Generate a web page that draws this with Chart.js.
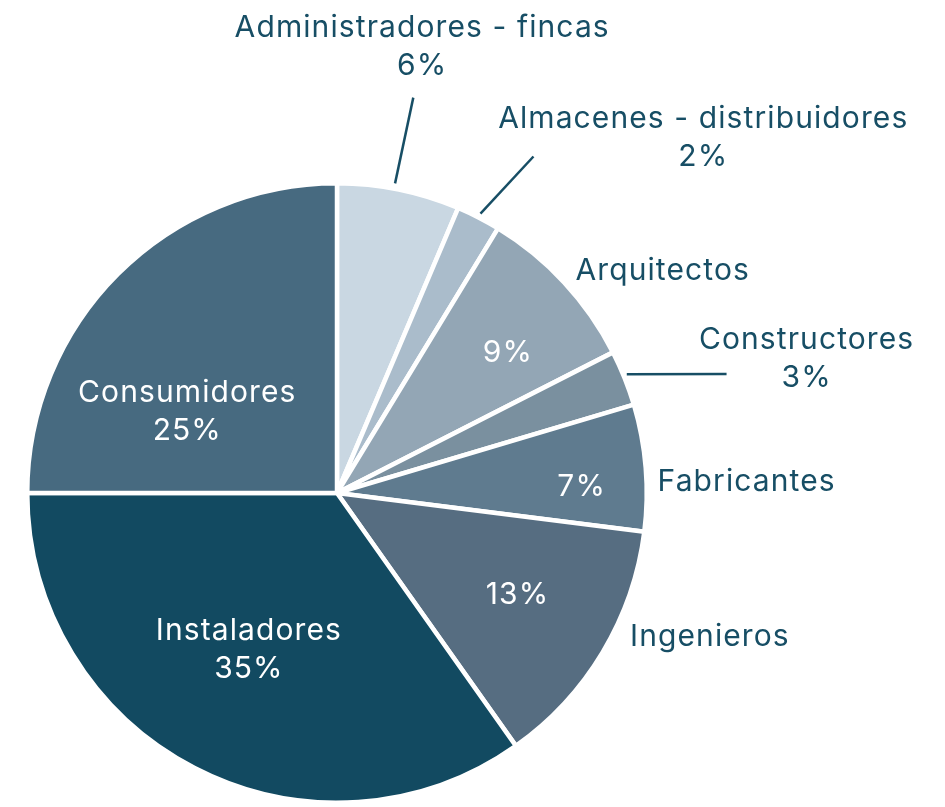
<!DOCTYPE html>
<html>
<head>
<meta charset="utf-8">
<script src="https://cdn.jsdelivr.net/npm/chart.js@4"></script>
<style>
  html, body { margin: 0; padding: 0; background: #ffffff; }
  #wrap { width: 945px; height: 807px; }
</style>
</head>
<body>
<div id="wrap"><canvas id="pieChart" width="945" height="807"></canvas></div>
<script>
// Data (share of total, %)
const categories = [
    'Administradores - fincas',
    'Almacenes - distribuidores',
    'Arquitectos',
    'Constructores',
    'Fabricantes',
    'Ingenieros',
    'Instaladores',
    'Consumidores'
];
const shares = [6.4, 2.3, 8.8, 2.9, 6.6, 13.2, 34.8, 25.0];
const sliceColors = ['#c9d7e2', '#aabccb', '#93a6b5', '#7a909f', '#5f7b8f', '#566d81', '#124a61', '#476a80'];

const TEXT_DARK = '#174e65';
const FONT = '400 30px Inter, "Open Sans", sans-serif';
const LINE_H = 38;

// Where each slice's texts go: polar offsets relative to the slice middle
// (degrees clockwise, radius as a factor of the pie radius)
const placements = [
    { out: [-0.7, 1.465], both: true, line: [[-0.9, 1.017], [-0.6, 1.30]] },
    { out: [18.7, 1.647], both: true, line: [[0, 1.014], [3.1, 1.258]] },
    { inPct: [3.5, 0.713], name: [8.6, 1.272] },
    { out: [5.8, 1.577], both: true, line: [[-0.5, 1.011], [4.8, 1.315]] },
    { inPct: [3.2, 0.79], name: [3.2, 1.323] },
    { inPct: [-1.4, 0.67], name: [-9.9, 1.29] },
    { inBoth: [2, 0.58] },
    { inBoth: [-16.5, 0.55] }
];

// Draw slice labels and leader lines
const sliceLabels = {
    id: 'sliceLabels',
    afterDatasetsDraw(chart) {
        const ctx = chart.ctx;
        const arcs = chart.getDatasetMeta(0).data;
        ctx.save();
        ctx.font = FONT;
        ctx.letterSpacing = '1.1px';
        ctx.textAlign = 'center';
        ctx.textBaseline = 'middle';

        arcs.forEach((arc, i) => {
            const p = placements[i];
            const { x, y, startAngle, endAngle, outerRadius } =
                arc.getProps(['x', 'y', 'startAngle', 'endAngle', 'outerRadius'], true);
            const mid = (startAngle + endAngle) / 2;
            const pt = (spec) => {
                const a = mid + spec[0] * Math.PI / 180;
                return [x + Math.cos(a) * outerRadius * spec[1], y + Math.sin(a) * outerRadius * spec[1]];
            };
            const pct = Math.round(shares[i]) + '%';

            const block = (spec, lines, color) => {
                const [cx, cy] = pt(spec);
                ctx.fillStyle = color;
                lines.forEach((t, k) => {
                    ctx.fillText(t, cx, cy + (k - (lines.length - 1) / 2) * LINE_H);
                });
            };

            if (p.line) {
                const a = pt(p.line[0]);
                const b = pt(p.line[1]);
                ctx.strokeStyle = TEXT_DARK;
                ctx.lineWidth = 2.5;
                ctx.beginPath();
                ctx.moveTo(a[0], a[1]);
                ctx.lineTo(b[0], b[1]);
                ctx.stroke();
            }
            if (p.out) block(p.out, [categories[i], pct], TEXT_DARK);
            if (p.inPct) block(p.inPct, [pct], '#ffffff');
            if (p.name) block(p.name, [categories[i]], TEXT_DARK);
            if (p.inBoth) block(p.inBoth, [categories[i], pct], '#ffffff');
        });
        ctx.restore();
    }
};

new Chart(document.getElementById('pieChart'), {
    type: 'pie',
    data: {
        labels: categories,
        datasets: [{
            data: shares,
            backgroundColor: sliceColors,
            borderColor: '#ffffff',
            borderWidth: 4.5
        }]
    },
    options: {
        responsive: false,
        animation: false,
        layout: {
            padding: { left: 25, right: 296, top: 181, bottom: 2 }
        },
        plugins: {
            legend: { display: false },
            tooltip: { enabled: false }
        }
    },
    plugins: [sliceLabels]
});
</script>
</body>
</html>
